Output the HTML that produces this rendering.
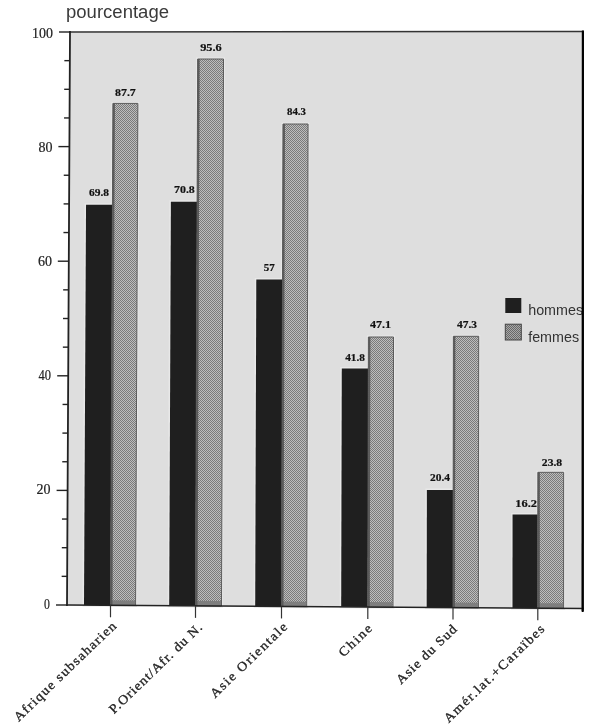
<!DOCTYPE html><html><head><meta charset="utf-8"><style>html,body{margin:0;padding:0;background:#fff;}svg{display:block;will-change:transform}</style></head><body>
<svg width="600" height="725" viewBox="0 0 600 725">
<defs><pattern id="chk" width="2" height="2" patternUnits="userSpaceOnUse"><rect width="2" height="2" fill="#bdbdbd"/><rect width="1" height="1" fill="#7a7a7a"/><rect x="1" y="1" width="1" height="1" fill="#7a7a7a"/></pattern><pattern id="chk2" width="2" height="2" patternUnits="userSpaceOnUse"><rect width="2" height="2" fill="#a8a8a8"/><rect width="1" height="1" fill="#686868"/><rect x="1" y="1" width="1" height="1" fill="#686868"/></pattern></defs>
<rect width="600" height="725" fill="#fff"/>
<polygon points="70,32 583,31.5 583,608.5 67,605" fill="#dedede"/>
<polygon points="84.00,605.12 110.50,605.30 112.43,204.70 86.04,204.70" fill="#1f1f1f" stroke="#e8e8e8" stroke-width="3"/>
<polygon points="110.50,605.30 135.60,605.47 137.89,103.40 112.92,103.40" fill="#1f1f1f" stroke="#e8e8e8" stroke-width="3"/>
<polygon points="169.20,605.69 195.50,605.87 197.10,201.70 170.91,201.70" fill="#1f1f1f" stroke="#e8e8e8" stroke-width="3"/>
<polygon points="195.50,605.87 221.50,606.05 223.52,59.00 197.66,59.00" fill="#1f1f1f" stroke="#e8e8e8" stroke-width="3"/>
<polygon points="255.20,606.28 281.50,606.45 282.51,279.50 256.29,279.50" fill="#1f1f1f" stroke="#e8e8e8" stroke-width="3"/>
<polygon points="281.50,606.45 306.70,606.63 308.06,124.00 282.98,124.00" fill="#1f1f1f" stroke="#e8e8e8" stroke-width="3"/>
<polygon points="341.20,606.86 367.80,607.04 368.32,368.40 341.79,368.40" fill="#1f1f1f" stroke="#e8e8e8" stroke-width="3"/>
<polygon points="367.80,607.04 393.00,607.21 393.52,337.00 368.39,337.00" fill="#1f1f1f" stroke="#e8e8e8" stroke-width="3"/>
<polygon points="426.70,607.44 453.00,607.62 453.16,490.00 426.89,490.00" fill="#1f1f1f" stroke="#e8e8e8" stroke-width="3"/>
<polygon points="453.00,607.62 478.40,607.79 478.69,336.30 453.36,336.30" fill="#1f1f1f" stroke="#e8e8e8" stroke-width="3"/>
<polygon points="512.50,608.02 537.80,608.19 537.84,514.50 512.57,514.50" fill="#1f1f1f" stroke="#e8e8e8" stroke-width="3"/>
<polygon points="537.80,608.19 563.60,608.37 563.63,472.30 537.86,472.30" fill="#1f1f1f" stroke="#e8e8e8" stroke-width="3"/>
<polygon points="84.00,605.12 110.50,605.30 112.43,204.70 86.04,204.70" fill="#1f1f1f" />
<polygon points="110.50,605.30 135.60,605.47 137.89,103.40 112.92,103.40" fill="url(#chk)" stroke="#5a5a5a" stroke-width="1"/>
<polygon points="111.00,605.30 135.10,605.47 135.10,600.47 111.00,600.30" fill="#7e7e7e" />
<polygon points="110.50,605.30 112.50,605.31 114.91,103.40 112.92,103.40" fill="#5a5a5a" />
<polygon points="169.20,605.69 195.50,605.87 197.10,201.70 170.91,201.70" fill="#1f1f1f" />
<polygon points="195.50,605.87 221.50,606.05 223.52,59.00 197.66,59.00" fill="url(#chk)" stroke="#5a5a5a" stroke-width="1"/>
<polygon points="196.00,605.87 221.00,606.05 221.00,601.05 196.00,600.87" fill="#7e7e7e" />
<polygon points="195.50,605.87 197.50,605.89 199.65,59.00 197.66,59.00" fill="#5a5a5a" />
<polygon points="255.20,606.28 281.50,606.45 282.51,279.50 256.29,279.50" fill="#1f1f1f" />
<polygon points="281.50,606.45 306.70,606.63 308.06,124.00 282.98,124.00" fill="url(#chk)" stroke="#5a5a5a" stroke-width="1"/>
<polygon points="282.00,606.45 306.20,606.63 306.20,601.63 282.00,601.45" fill="#7e7e7e" />
<polygon points="281.50,606.45 283.50,606.47 284.97,124.00 282.98,124.00" fill="#5a5a5a" />
<polygon points="341.20,606.86 367.80,607.04 368.32,368.40 341.79,368.40" fill="#1f1f1f" />
<polygon points="367.80,607.04 393.00,607.21 393.52,337.00 368.39,337.00" fill="url(#chk)" stroke="#5a5a5a" stroke-width="1"/>
<polygon points="368.30,607.04 392.50,607.21 392.50,602.21 368.30,602.04" fill="#7e7e7e" />
<polygon points="367.80,607.04 369.80,607.05 370.39,337.00 368.39,337.00" fill="#5a5a5a" />
<polygon points="426.70,607.44 453.00,607.62 453.16,490.00 426.89,490.00" fill="#1f1f1f" />
<polygon points="453.00,607.62 478.40,607.79 478.69,336.30 453.36,336.30" fill="url(#chk)" stroke="#5a5a5a" stroke-width="1"/>
<polygon points="453.50,607.62 477.90,607.79 477.90,602.79 453.50,602.62" fill="#7e7e7e" />
<polygon points="453.00,607.62 455.00,607.63 455.35,336.30 453.36,336.30" fill="#5a5a5a" />
<polygon points="512.50,608.02 537.80,608.19 537.84,514.50 512.57,514.50" fill="#1f1f1f" />
<polygon points="537.80,608.19 563.60,608.37 563.63,472.30 537.86,472.30" fill="url(#chk)" stroke="#5a5a5a" stroke-width="1"/>
<polygon points="538.30,608.19 563.10,608.37 563.10,603.37 538.30,603.19" fill="#7e7e7e" />
<polygon points="537.80,608.19 539.80,608.21 539.86,472.30 537.86,472.30" fill="#5a5a5a" />
<g stroke-linecap="square">
<line x1="70" y1="32" x2="583" y2="31.5" stroke="#333" stroke-width="1.6"/>
<line x1="70" y1="32" x2="67" y2="605" stroke="#222" stroke-width="1.8"/>
<line x1="582.9" y1="31.5" x2="582.7" y2="611" stroke="#000" stroke-width="2"/>
<line x1="67" y1="605" x2="583" y2="608.5" stroke="#222" stroke-width="1.5"/>
</g>
<line x1="56.00" y1="605.00" x2="67.00" y2="605.00" stroke="#222" stroke-width="1.4"/>
<line x1="61.65" y1="576.35" x2="67.15" y2="576.35" stroke="#222" stroke-width="1.4"/>
<line x1="61.80" y1="547.70" x2="67.30" y2="547.70" stroke="#222" stroke-width="1.4"/>
<line x1="61.95" y1="519.05" x2="67.45" y2="519.05" stroke="#222" stroke-width="1.4"/>
<line x1="56.60" y1="490.40" x2="67.60" y2="490.40" stroke="#222" stroke-width="1.4"/>
<line x1="62.25" y1="461.75" x2="67.75" y2="461.75" stroke="#222" stroke-width="1.4"/>
<line x1="62.40" y1="433.10" x2="67.90" y2="433.10" stroke="#222" stroke-width="1.4"/>
<line x1="62.55" y1="404.45" x2="68.05" y2="404.45" stroke="#222" stroke-width="1.4"/>
<line x1="57.20" y1="375.80" x2="68.20" y2="375.80" stroke="#222" stroke-width="1.4"/>
<line x1="62.85" y1="347.15" x2="68.35" y2="347.15" stroke="#222" stroke-width="1.4"/>
<line x1="63.00" y1="318.50" x2="68.50" y2="318.50" stroke="#222" stroke-width="1.4"/>
<line x1="63.15" y1="289.85" x2="68.65" y2="289.85" stroke="#222" stroke-width="1.4"/>
<line x1="57.80" y1="261.20" x2="68.80" y2="261.20" stroke="#222" stroke-width="1.4"/>
<line x1="63.45" y1="232.55" x2="68.95" y2="232.55" stroke="#222" stroke-width="1.4"/>
<line x1="63.60" y1="203.90" x2="69.10" y2="203.90" stroke="#222" stroke-width="1.4"/>
<line x1="63.75" y1="175.25" x2="69.25" y2="175.25" stroke="#222" stroke-width="1.4"/>
<line x1="58.40" y1="146.60" x2="69.40" y2="146.60" stroke="#222" stroke-width="1.4"/>
<line x1="64.05" y1="117.95" x2="69.55" y2="117.95" stroke="#222" stroke-width="1.4"/>
<line x1="64.20" y1="89.30" x2="69.70" y2="89.30" stroke="#222" stroke-width="1.4"/>
<line x1="64.35" y1="60.65" x2="69.85" y2="60.65" stroke="#222" stroke-width="1.4"/>
<line x1="59.00" y1="32.00" x2="70.00" y2="32.00" stroke="#222" stroke-width="1.4"/>
<line x1="110.50" y1="605.30" x2="110.50" y2="617.30" stroke="#333" stroke-width="1.2"/>
<line x1="195.50" y1="605.87" x2="195.50" y2="617.87" stroke="#333" stroke-width="1.2"/>
<line x1="281.50" y1="606.45" x2="281.50" y2="618.45" stroke="#333" stroke-width="1.2"/>
<line x1="367.80" y1="607.04" x2="367.80" y2="619.04" stroke="#333" stroke-width="1.2"/>
<line x1="453.00" y1="607.62" x2="453.00" y2="619.62" stroke="#333" stroke-width="1.2"/>
<line x1="537.80" y1="608.19" x2="537.80" y2="620.19" stroke="#333" stroke-width="1.2"/>
<text x="32.00" y="37.90" font-family="'Liberation Serif', serif" font-size="14.5" textLength="20.90" lengthAdjust="spacingAndGlyphs" fill="#222" stroke="#222" stroke-width="0.2">100</text>
<text x="38.50" y="151.50" font-family="'Liberation Serif', serif" font-size="14.5" textLength="14.00" lengthAdjust="spacingAndGlyphs" fill="#222" stroke="#222" stroke-width="0.2">80</text>
<text x="38.00" y="265.60" font-family="'Liberation Serif', serif" font-size="14.5" textLength="14.00" lengthAdjust="spacingAndGlyphs" fill="#222" stroke="#222" stroke-width="0.2">60</text>
<text x="38.50" y="380.00" font-family="'Liberation Serif', serif" font-size="14.5" textLength="12.50" lengthAdjust="spacingAndGlyphs" fill="#222" stroke="#222" stroke-width="0.2">40</text>
<text x="36.50" y="494.00" font-family="'Liberation Serif', serif" font-size="14.5" textLength="14.00" lengthAdjust="spacingAndGlyphs" fill="#222" stroke="#222" stroke-width="0.2">20</text>
<text x="44.10" y="609.00" font-family="'Liberation Serif', serif" font-size="14.5" textLength="5.90" lengthAdjust="spacingAndGlyphs" fill="#222" stroke="#222" stroke-width="0.2">0</text>
<text x="66.00" y="18.10" font-family="'Liberation Sans', sans-serif" font-size="18.7" textLength="103.00" lengthAdjust="spacingAndGlyphs" fill="#3a3a3a" >pourcentage</text>
<text x="89.00" y="196.30" font-family="'Liberation Serif', serif" font-weight="bold" font-size="11" textLength="20.00" lengthAdjust="spacingAndGlyphs" fill="#111" stroke="#111" stroke-width="0.2">69.8</text>
<text x="115.00" y="95.50" font-family="'Liberation Serif', serif" font-weight="bold" font-size="11" textLength="20.80" lengthAdjust="spacingAndGlyphs" fill="#111" stroke="#111" stroke-width="0.2">87.7</text>
<text x="174.00" y="192.70" font-family="'Liberation Serif', serif" font-weight="bold" font-size="11" textLength="20.80" lengthAdjust="spacingAndGlyphs" fill="#111" stroke="#111" stroke-width="0.2">70.8</text>
<text x="200.20" y="51.00" font-family="'Liberation Serif', serif" font-weight="bold" font-size="11" textLength="21.60" lengthAdjust="spacingAndGlyphs" fill="#111" stroke="#111" stroke-width="0.2">95.6</text>
<text x="263.80" y="271.30" font-family="'Liberation Serif', serif" font-weight="bold" font-size="11" textLength="11.00" lengthAdjust="spacingAndGlyphs" fill="#111" stroke="#111" stroke-width="0.2">57</text>
<text x="287.00" y="115.00" font-family="'Liberation Serif', serif" font-weight="bold" font-size="11" textLength="19.00" lengthAdjust="spacingAndGlyphs" fill="#111" stroke="#111" stroke-width="0.2">84.3</text>
<text x="345.20" y="361.05" font-family="'Liberation Serif', serif" font-weight="bold" font-size="11" textLength="19.80" lengthAdjust="spacingAndGlyphs" fill="#111" stroke="#111" stroke-width="0.2">41.8</text>
<text x="370.00" y="328.00" font-family="'Liberation Serif', serif" font-weight="bold" font-size="11" textLength="21.00" lengthAdjust="spacingAndGlyphs" fill="#111" stroke="#111" stroke-width="0.2">47.1</text>
<text x="430.00" y="480.75" font-family="'Liberation Serif', serif" font-weight="bold" font-size="11" textLength="20.00" lengthAdjust="spacingAndGlyphs" fill="#111" stroke="#111" stroke-width="0.2">20.4</text>
<text x="457.00" y="328.00" font-family="'Liberation Serif', serif" font-weight="bold" font-size="11" textLength="20.00" lengthAdjust="spacingAndGlyphs" fill="#111" stroke="#111" stroke-width="0.2">47.3</text>
<text x="515.20" y="506.65" font-family="'Liberation Serif', serif" font-weight="bold" font-size="11" textLength="21.80" lengthAdjust="spacingAndGlyphs" fill="#111" stroke="#111" stroke-width="0.2">16.2</text>
<text x="541.80" y="465.50" font-family="'Liberation Serif', serif" font-weight="bold" font-size="11" textLength="20.40" lengthAdjust="spacingAndGlyphs" fill="#111" stroke="#111" stroke-width="0.2">23.8</text>
<rect x="505.3" y="298" width="16" height="15" fill="#1f1f1f"/>
<rect x="505.3" y="324.2" width="16" height="15.8" fill="url(#chk2)" stroke="#444" stroke-width="1"/>
<text x="528.20" y="341.50" font-family="'Liberation Sans', sans-serif" font-size="14" textLength="50.90" lengthAdjust="spacingAndGlyphs" fill="#333">femmes</text>
<text x="528.20" y="315.00" font-family="'Liberation Sans', sans-serif" font-size="14" textLength="54.88" lengthAdjust="spacingAndGlyphs" fill="#333">hommes</text>
<line x1="582.9" y1="31.5" x2="582.7" y2="611" stroke="#000" stroke-width="2"/>
<text transform="translate(117.00,627.00) rotate(-44) scale(1.08,1)" text-anchor="end" font-family="'Liberation Serif', serif" font-size="13" font-weight="normal" textLength="126.62" lengthAdjust="spacing" fill="#222" stroke="#222" stroke-width="0.3">Afrique subsaharien</text>
<text transform="translate(203.10,628.25) rotate(-44) scale(1.08,1)" text-anchor="end" font-family="'Liberation Serif', serif" font-size="13" font-weight="normal" textLength="114.70" lengthAdjust="spacing" fill="#222" stroke="#222" stroke-width="0.3">P.Orient/Afr. du N.</text>
<text transform="translate(288.00,628.00) rotate(-44) scale(1.08,1)" text-anchor="end" font-family="'Liberation Serif', serif" font-size="13" font-weight="normal" textLength="94.10" lengthAdjust="spacing" fill="#222" stroke="#222" stroke-width="0.3">Asie Orientale</text>
<text transform="translate(372.80,629.30) rotate(-44) scale(1.08,1)" text-anchor="end" font-family="'Liberation Serif', serif" font-size="13" font-weight="normal" textLength="37.63" lengthAdjust="spacing" fill="#222" stroke="#222" stroke-width="0.3">Chine</text>
<text transform="translate(457.50,630.20) rotate(-44) scale(1.08,1)" text-anchor="end" font-family="'Liberation Serif', serif" font-size="13" font-weight="normal" textLength="72.76" lengthAdjust="spacing" fill="#222" stroke="#222" stroke-width="0.3">Asie du Sud</text>
<text transform="translate(545.30,630.00) rotate(-44) scale(1.08,1)" text-anchor="end" font-family="'Liberation Serif', serif" font-size="13" font-weight="normal" textLength="124.29" lengthAdjust="spacing" fill="#222" stroke="#222" stroke-width="0.3">Amér.lat.+Caraïbes</text>
</svg></body></html>
